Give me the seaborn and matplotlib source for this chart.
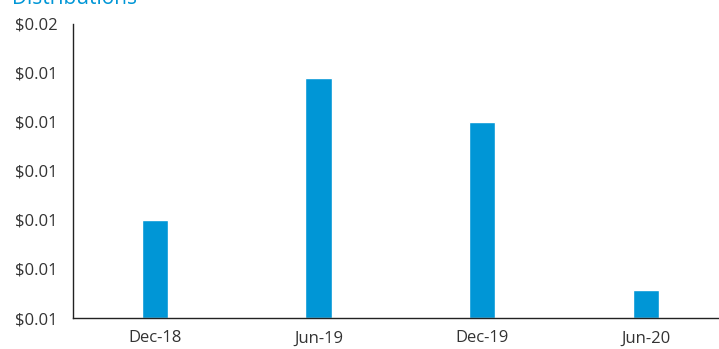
import matplotlib
matplotlib.use("Agg")
import matplotlib.pyplot as plt
import seaborn as sns
import pandas as pd

# data
periods = ["Dec-18", "Jun-19", "Dec-19", "Jun-20"]
distributions = [0.0110, 0.0139, 0.0130, 0.00957]
tick_values = [0.009, 0.010, 0.011, 0.012, 0.013, 0.014, 0.015]
tick_labels = ["$0.01", "$0.01", "$0.01", "$0.01", "$0.01", "$0.01", "$0.02"]

df = pd.DataFrame({"period": periods, "value": distributions})

sns.set_theme(style="white")
plt.rcParams["font.family"] = ["Open Sans", "DejaVu Sans"]

fig = plt.figure(figsize=(7.19, 3.49), dpi=100)
ax = fig.add_axes([73 / 719, 31 / 349, 645 / 719, 294 / 349])

sns.barplot(data=df, x="period", y="value", color="#0096d6",
            saturation=1, width=0.16, ax=ax)
# bars start at the axis floor, not zero
for patch, val in zip(ax.patches, distributions):
    patch.set_y(tick_values[0])
    patch.set_height(val - tick_values[0])

ax.set_xlim(-0.5, 3.44)
ax.set_ylim(tick_values[0], tick_values[-1])
ax.set_yticks(tick_values)
ax.set_yticklabels(tick_labels)
ax.set_xlabel("")
ax.set_ylabel("")
ax.tick_params(axis="both", length=0, labelsize=12, colors="#333333")
ax.tick_params(axis="x", pad=9)
ax.tick_params(axis="y", pad=11)
for side in ("top", "right"):
    ax.spines[side].set_visible(False)
for side in ("left", "bottom"):
    ax.spines[side].set_color("#222222")
    ax.spines[side].set_linewidth(1.0)

fig.text(12 / 719, 1 - 4 / 349, "Distributions", color="#0096d6",
         fontsize=15, va="baseline", ha="left")

fig.savefig("out.png", dpi=100)
